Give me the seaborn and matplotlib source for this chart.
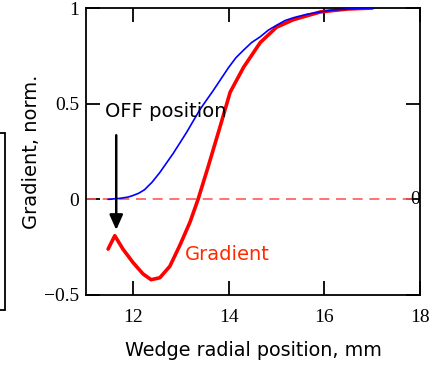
import numpy as np
import pandas as pd
import matplotlib
matplotlib.use("Agg")
import matplotlib.pyplot as plt
import seaborn as sns

# Data
blue_x = [11.48, 11.72, 11.9, 12.0, 12.12, 12.24, 12.4, 12.56, 12.7, 12.84, 12.98, 13.12, 13.26, 13.40, 13.54, 13.68, 13.84, 14.0, 14.15, 14.31, 14.48, 14.66, 14.83, 15.0, 15.18, 15.36, 15.64, 15.92, 16.2, 16.48, 17.0]
blue_y = [0.00, 0.005, 0.012, 0.02, 0.032, 0.05, 0.09, 0.14, 0.19, 0.24, 0.295, 0.35, 0.41, 0.47, 0.52, 0.57, 0.63, 0.69, 0.74, 0.78, 0.82, 0.85, 0.885, 0.91, 0.935, 0.95, 0.968, 0.98, 0.99, 0.995, 1.0]

red_x = [11.48, 11.62, 11.79, 12.0, 12.21, 12.38, 12.56, 12.77, 12.98, 13.19, 13.36, 13.57, 13.82, 14.03, 14.31, 14.66, 15.0, 15.36, 15.92, 16.48, 17.0]
red_y = [-0.26, -0.19, -0.26, -0.33, -0.39, -0.42, -0.41, -0.35, -0.24, -0.12, 0.0, 0.17, 0.38, 0.56, 0.69, 0.82, 0.90, 0.94, 0.98, 0.995, 1.0]

x_ticks = [12, 14, 16, 18]
y_ticks = [-0.5, 0, 0.5, 1]
y_tick_labels = ["\u22120.5", "0", "0.5", "1"]

sns.set_style("ticks")
plt.rcParams['font.family'] = ['DejaVu Sans']
plt.rcParams['text.color'] = 'black'
plt.rcParams['axes.labelcolor'] = 'black'

fig = plt.figure(figsize=(4.46, 3.66), dpi=100)
ax = fig.add_axes([0.193, 0.194, 0.749, 0.784])

blue_df = pd.DataFrame({"x": blue_x, "y": blue_y})
red_df = pd.DataFrame({"x": red_x, "y": red_y})

ax.axhline(0, color="#ff5a5a", lw=1.2, ls=(0, (6, 4)), zorder=1)
sns.lineplot(data=blue_df, x="x", y="y", ax=ax, color="#0000ff", lw=1.2, sort=False, zorder=3)
sns.lineplot(data=red_df, x="x", y="y", ax=ax, color="#ff0000", lw=2.6, sort=False, zorder=2)

ax.set_xlim(11.02, 18.0)
ax.set_ylim(-0.5, 1.0)
ax.set_xticks(x_ticks)
ax.set_xticklabels([str(t) for t in x_ticks])
ax.set_yticks(y_ticks)
ax.set_yticklabels(y_tick_labels)
ax.tick_params(direction="in", length=10, width=1.3, top=True, right=True,
               labelsize=14, pad=5, colors="black")
ax.tick_params(axis="x", pad=10)
for lab in ax.get_xticklabels() + ax.get_yticklabels():
    lab.set_fontfamily("Liberation Serif")
for sp in ax.spines.values():
    sp.set_linewidth(1.3)
    sp.set_color("black")

ax.set_xlabel("Wedge radial position, mm", fontsize=13.8, labelpad=11, color="black")
ax.set_ylabel("Gradient, norm.", fontsize=14, labelpad=2, color="black")

# Right-side "0" label
ax.text(0.985, 0, "0", transform=ax.get_yaxis_transform(), ha="center", va="center",
        fontsize=14, fontfamily="Liberation Serif", color="black")

# Annotations
ax.text(11.41, 0.46, "OFF position", fontsize=14, color="black", ha="left", va="center")
ax.annotate("", xy=(11.65, -0.16), xytext=(11.65, 0.335),
            arrowprops=dict(arrowstyle="-|>,head_width=0.4,head_length=0.9",
                            color="black", lw=1.8, shrinkA=0, shrinkB=0))
ax.text(13.08, -0.29, "Gradient", fontsize=14, color="#ff2a00", ha="left", va="center")

ax.set_facecolor("white")
fig.patch.set_facecolor("white")

# Leftover box edge at the far left
fig.add_artist(plt.Line2D([0.0, 0.012], [1 - 133/366, 1 - 133/366], color="black", lw=1.3, transform=fig.transFigure))
fig.add_artist(plt.Line2D([0.012, 0.012], [1 - 133/366, 1 - 310/366], color="black", lw=1.3, transform=fig.transFigure))
fig.add_artist(plt.Line2D([0.0, 0.012], [1 - 310/366, 1 - 310/366], color="black", lw=1.3, transform=fig.transFigure))

fig.savefig("out.png", dpi=100)
